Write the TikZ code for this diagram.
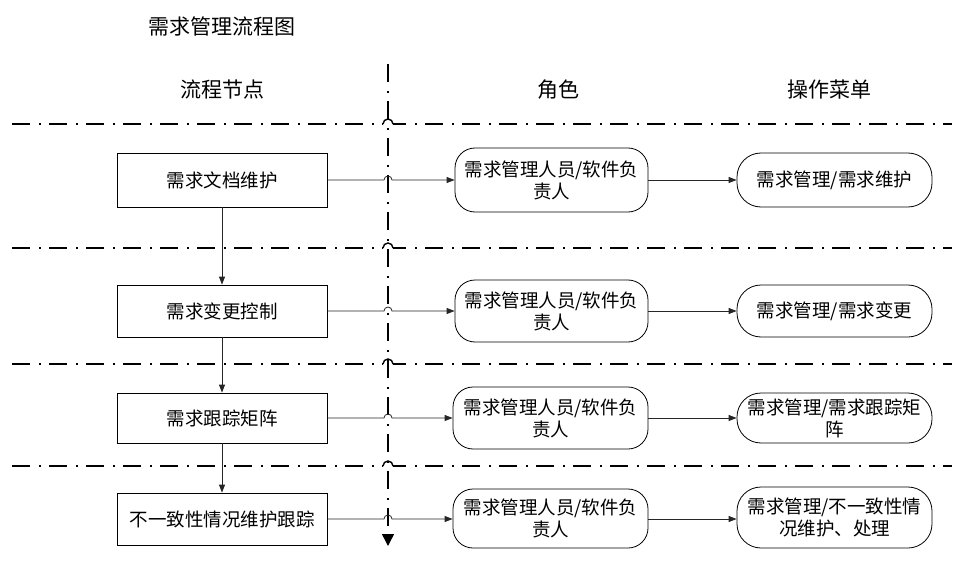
\documentclass[tikz,border=0pt]{standalone}
\usepackage{fontspec}
\setmainfont{Noto Sans CJK SC}
\usetikzlibrary{arrows.meta}
\begin{document}
\begin{tikzpicture}[x=1pt,y=-1pt,
  txt/.style={font=\fontsize{18.5pt}{22pt}\selectfont, text=black},
  hdr/.style={font=\fontsize{21pt}{24pt}\selectfont, text=black},
  flowbox/.style={draw=black, line width=0.8pt, minimum width=210pt, inner sep=0pt, txt, align=center},
  rolebox/.style={draw=black, line width=0.8pt, rounded corners=20pt, minimum width=193pt, inner sep=0pt, txt, align=center},
  menubox/.style={draw=black, line width=0.8pt, rounded corners=24pt, minimum width=195pt, inner sep=0pt, txt, align=center},
  sepline/.style={line width=1.4pt, dash pattern=on 18pt off 9pt on 1.6pt off 8.4pt},
  conn/.style={line width=0.8pt, draw=black!85, -{Triangle[length=8pt,width=6pt]}},
]
\useasboundingbox (0,0) rectangle (972,567);

% title and headers
\node[hdr] (title) at (222,27) {需求管理流程图};
\node[hdr] (h1) at (222,90) {流程节点};
\node[hdr] (h2) at (558,90) {角色};
\node[hdr] (h3) at (829,90) {操作菜单};

% horizontal separators with hops
\foreach \yy in {124,248,364,466}{
  \draw[sepline] (12,\yy) -- (383,\yy);
  \draw[line width=1.4pt] (383,\yy) arc (180:360:5);
  \draw[sepline, dash phase=5pt] (393,\yy) -- (952,\yy);
}

% vertical separator
\coordinate (vtop) at (388,64);
\coordinate (vbot) at (388,546);
\draw[sepline, -{Triangle[length=12pt,width=12pt]}] (vtop) -- (vbot);

% left flow boxes
\node[flowbox, minimum height=54pt] (f1) at (222,180) {需求文档维护};
\node[flowbox, minimum height=52pt] (f2) at (222,311) {需求变更控制};
\node[flowbox, minimum height=50pt] (f3) at (222,418) {需求跟踪矩阵};
\node[flowbox, minimum height=52pt] (f4) at (222,519) {不一致性情况维护跟踪};

% role boxes
\node[rolebox, minimum height=64pt] (r1) at (551.5,180) {需求管理人员/软件负\\责人};
\node[rolebox, minimum height=62pt] (r2) at (551.5,311) {需求管理人员/软件负\\责人};
\node[rolebox, minimum height=62pt, minimum width=195pt] (r3) at (550.5,418) {需求管理人员/软件负\\责人};
\node[rolebox, minimum height=59pt, minimum width=195pt] (r4) at (550.5,518.5) {需求管理人员/软件负\\责人};

% menu boxes
\node[menubox, minimum height=54pt] (m1) at (834.5,180) {需求管理/需求维护};
\node[menubox, minimum height=52pt] (m2) at (834.5,311) {需求管理/需求变更};
\node[menubox, minimum height=50pt] (m3) at (834.5,418) {需求管理/需求跟踪矩\\阵};
\node[menubox, minimum height=61pt] (m4) at (834.5,517.5) {需求管理/不一致性情\\况维护、处理};

% vertical flow arrows
\draw[conn] (f1) -- (f2);
\draw[conn] (f2) -- (f3);
\draw[conn] (f3) -- (f4);

% horizontal connectors with hops over the vertical separator
\foreach \a/\b/\yy in {f1/r1/180,f2/r2/311,f3/r3/418,f4/r4/519}{
  \draw[conn] (\a.east |- 0,\yy) -- (384,\yy) arc (180:360:4) -- (\b.west |- 0,\yy);
}
\draw[conn] (r1) -- (m1);
\draw[conn] (r2) -- (m2);
\draw[conn] (r3) -- (m3);
\draw[conn] (r4.east |- 0,519) -- (m4.west |- 0,519);
\end{tikzpicture}
\end{document}
